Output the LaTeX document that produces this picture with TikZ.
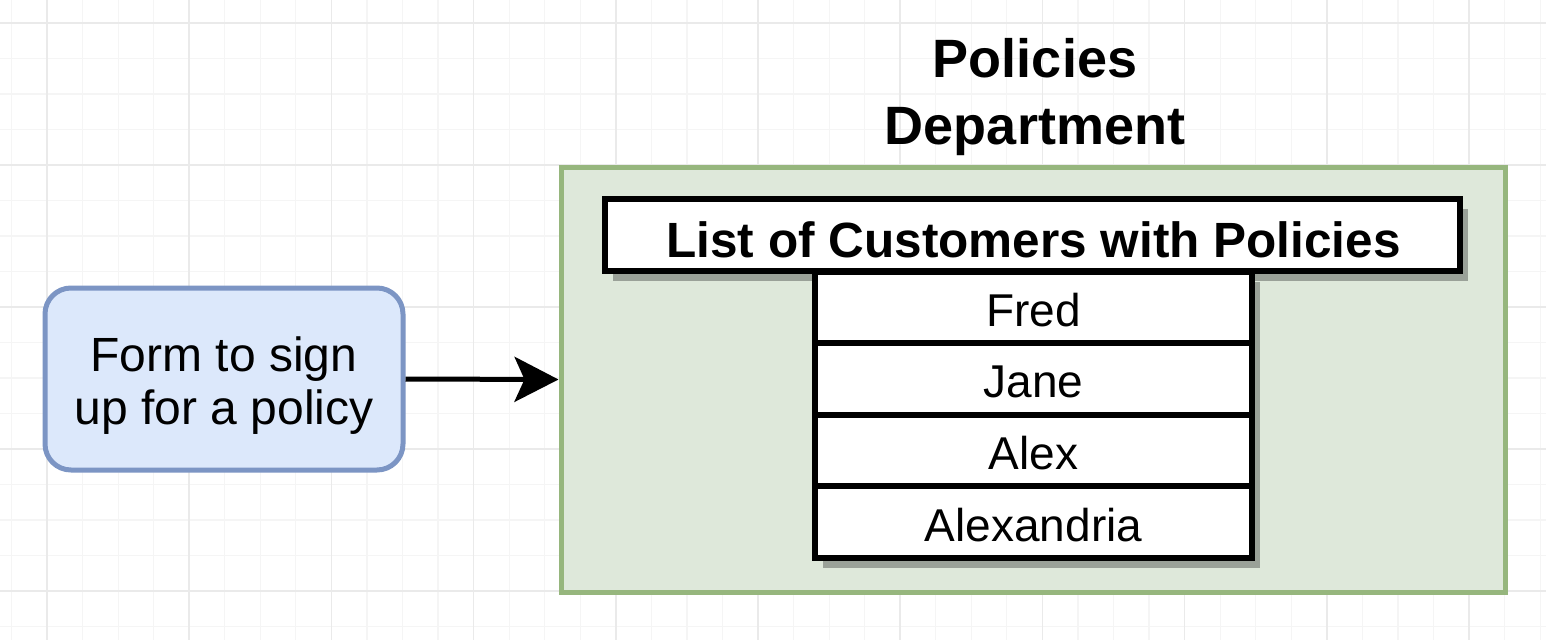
\documentclass[tikz,border=0pt]{standalone}
\usepackage{fontspec}
\setmainfont{Liberation Sans}
\usetikzlibrary{arrows.meta,shadows}
\definecolor{gridminor}{HTML}{F5F5F5}
\definecolor{gridmajor}{HTML}{EAEAEA}
\definecolor{bluefill}{HTML}{DCE8FB}
\definecolor{bluedraw}{HTML}{7C95C4}
\definecolor{greenfill}{HTML}{DEE8DA}
\definecolor{greendraw}{HTML}{96B67D}
\tikzset{
  minorline/.style={draw=gridminor, line width=1.2pt},
  majorline/.style={draw=gridmajor, line width=1.6pt},
  formbox/.style={draw=bluedraw, fill=bluefill, line width=5pt, rounded corners=26pt,
    minimum width=358pt, minimum height=182pt, inner sep=0pt},
  formtext/.style={align=center, inner sep=0pt, font=\fontsize{48}{53}\selectfont},
  deptbox/.style={draw=greendraw, fill=greenfill, line width=5pt,
    minimum width=944pt, minimum height=425pt, inner sep=0pt},
  titletext/.style={align=center, inner sep=0pt, font=\bfseries\fontsize{54}{67}\selectfont},
  tshadow/.style={drop shadow={shadow xshift=8pt, shadow yshift=-10pt, fill=black, opacity=0.3}},
  headbox/.style={draw=black, fill=white, line width=6pt, tshadow,
    minimum width=855pt, minimum height=72pt, inner sep=0pt},
  headtext/.style={inner sep=0pt, font=\bfseries\fontsize{49.5}{55}\selectfont},
  rowbox/.style={draw=black, fill=white, line width=6pt, tshadow,
    minimum width=437pt, minimum height=71.5pt, inner sep=0pt},
  rowtext/.style={inner sep=0pt, font=\fontsize{46}{50}\selectfont},
  flow/.style={line width=5pt, -{Stealth[length=44pt, width=45pt, inset=10pt]}}
}
\begin{document}
\begin{tikzpicture}[x=1pt, y=-1pt]
\useasboundingbox (0,0) rectangle (1546,640);
\fill[white] (0,0) rectangle (1546,640);
% grid
\foreach \i in {-1,...,43} {
  \draw[minorline] ({47+\i*35.55},0) -- ({47+\i*35.55},640);
}
\foreach \i in {0,...,17} {
  \draw[minorline] (0,{23+\i*35.5}) -- (1546,{23+\i*35.5});
}
\foreach \i in {0,...,10} {
  \draw[majorline] ({47+\i*142.2},0) -- ({47+\i*142.2},640);
}
\foreach \i in {0,...,4} {
  \draw[majorline] (0,{23+\i*142}) -- (1546,{23+\i*142});
}
% nodes
\node[formbox] (form) at (224,379) {};
\node[formtext] (formlabel) at (224,386) {Form to sign\\up for a policy};
\node[deptbox] (dept) at (1033,379.5) {};
\node[titletext] (title) at (1035,97) {Policies\\Department};
\node[headbox] (head) at (1032.5,235) {};
\node[headtext] (headlabel) at (1033.5,240) {List of Customers with Policies};
\node[rowbox] (r1) at (1033.5,307.5) {};
\node[rowbox] (r2) at (1033.5,379) {};
\node[rowbox] (r3) at (1033.5,450.5) {};
\node[rowbox] (r4) at (1033.5,522) {};
\node[rowtext] at (r1.center) [yshift=-3pt] {Fred};
\node[rowtext] at (r2.center) [yshift=-3pt] {Jane};
\node[rowtext] at (r3.center) [yshift=-3pt] {Alex};
\node[rowtext] at (r4.center) [yshift=-3pt] {Alexandria};
% connector
\draw[flow] (form.east) -- (dept.west);
\end{tikzpicture}
\end{document}
